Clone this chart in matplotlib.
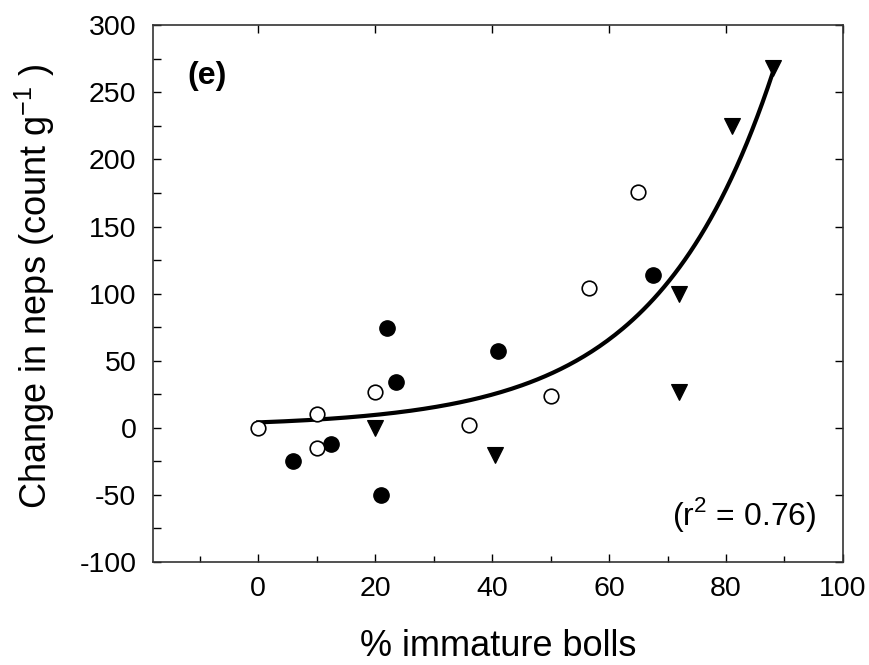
import numpy as np
import matplotlib
matplotlib.use("Agg")
import matplotlib.pyplot as plt
from matplotlib.ticker import MultipleLocator

plt.rcParams['font.family'] = ['Liberation Sans', 'DejaVu Sans']
plt.rcParams['mathtext.fontset'] = 'custom'
plt.rcParams['mathtext.rm'] = 'Liberation Sans'
plt.rcParams['axes.unicode_minus'] = False

# open circles
open_x = [0, 10, 10, 20, 36, 50, 56.5, 65]
open_y = [0, 10, -15, 27, 2, 23.5, 104, 176]
# filled circles
fill_x = [6, 12.5, 21, 22, 23.5, 41, 67.5]
fill_y = [-25, -12, -50, 74, 34, 57, 114]
# filled triangles
tri_x = [20, 40.5, 72, 72, 81, 88]
tri_y = [0, -20, 100, 27, 225, 268]

# exponential fit y = a*exp(k*x) + c
fit_a, fit_k, fit_c = 3.24, 0.05, 0.76
fit_xmin, fit_xmax = 0, 88
r2_text = "(r$^{2}$ = 0.76)"

fig = plt.figure(figsize=(8.69, 6.65), dpi=100)
ax = fig.add_axes([0.176, 0.155, 0.794, 0.807])

xf = np.linspace(fit_xmin, fit_xmax, 200)
ax.plot(xf, fit_a * np.exp(fit_k * xf) + fit_c, color='black', lw=3, zorder=2)

ax.plot(tri_x, tri_y, 'v', ms=12, mfc='black', mec='black', mew=0.8, zorder=3)
ax.plot(fill_x, fill_y, 'o', ms=11, mfc='black', mec='black', mew=1, zorder=3)
ax.plot(open_x, open_y, 'o', ms=10.5, mfc='white', mec='black', mew=1.2, zorder=4)

ax.set_xlim(-18, 100)
ax.set_ylim(-100, 300)
ax.xaxis.set_major_locator(MultipleLocator(20))
ax.xaxis.set_minor_locator(MultipleLocator(10))
ax.yaxis.set_major_locator(MultipleLocator(50))
ax.yaxis.set_minor_locator(MultipleLocator(25))
ax.set_xticks([0, 20, 40, 60, 80, 100])

ax.tick_params(which='major', direction='in', length=6, width=1, labelsize=20.5,
               top=True, right=True)
ax.tick_params(axis='x', which='major', pad=10)
ax.tick_params(axis='y', which='major', pad=12)
ax.tick_params(which='minor', direction='in', length=4, width=1,
               top=False, right=False, bottom=True, left=True)
ax.tick_params(axis='y', which='minor', length=6)
for s in ax.spines.values():
    s.set_linewidth(1.2)
    s.set_color('#333333')

ax.text(-8.7, 262, "(e)", fontsize=23, fontweight='bold', ha='center', va='center')
ax.text(95.5, -65, r2_text, fontsize=23, ha='right', va='center')

fig.text(0.573, 0.002, "% immature bolls", fontsize=26, ha='center', va='bottom')
fig.text(0.040, 0.57, "Change in neps (count g$^{\\mathregular{-1}}$ )", fontsize=26,
         rotation=90, ha='center', va='center')

fig.savefig("out.png", dpi=100)
